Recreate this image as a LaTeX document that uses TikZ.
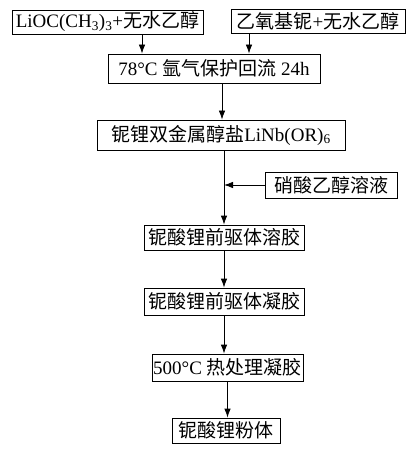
\documentclass[tikz,border=0pt]{standalone}
\usepackage{fontspec}
\setmainfont{Liberation Serif}
\newfontfamily\cjk{Noto Sans CJK SC}
\usetikzlibrary{arrows.meta}

\begin{document}
\begin{tikzpicture}
  [x=1pt,y=-1pt,line width=0.8pt,>={Latex[length=9pt,width=6.5pt]},every node/.style={draw,inner sep=0pt,font=\fontsize{19}{22}\selectfont}]
  \useasboundingbox (0,0) rectangle (413,454);
  \node[minimum width=191pt,minimum height=24pt] (b1) at (107.5,22) {LiOC(CH\textsubscript{3})\textsubscript{3}+{\cjk 无水乙醇}};
  \node[minimum width=174pt,minimum height=24pt] (b2) at (318,21.5) {{\cjk 乙氧基铌}+{\cjk 无水乙醇}};
  \node[minimum width=212pt,minimum height=29pt] (b3) at (214,68.5) {78°C {\cjk 氩气保护回流} 24h};
  \node[minimum width=248pt,minimum height=30pt] (b4) at (221,135) {{\cjk 铌锂双金属醇盐}LiNb(OR)\textsubscript{6}};
  \node[minimum width=132pt,minimum height=26pt] (b5) at (331,185) {\cjk 硝酸乙醇溶液};
  \node[minimum width=160pt,minimum height=25pt] (b6) at (224,237.5) {\cjk 铌酸锂前驱体溶胶};
  \node[minimum width=160pt,minimum height=27pt] (b7) at (224,301.5) {\cjk 铌酸锂前驱体凝胶};
  \node[minimum width=151pt,minimum height=27pt] (b8) at (227.5,367.5) {500°C {\cjk 热处理凝胶}};
  \node[minimum width=108pt,minimum height=25pt] (b9) at (226,430.5) {\cjk 铌酸锂粉体};
  \coordinate (j) at (224,185);
  \draw [->] ([xshift=34.5pt]b1.south) -- ([xshift=-72pt]b3.north);
  \draw [->] ([xshift=-69pt]b2.south) -- ([xshift=35pt]b3.north);
  \draw [->] ([xshift=8pt]b3.south) -- ([xshift=1pt]b4.north);
  \draw [->] ([xshift=3pt]b4.south) -- (b6.north);
  \draw [->] (b5.west) -- (j);
  \foreach \from/\to in {b6/b7, b7/b8, b8/b9}
    \draw [->] (\from.south) -- (\from.south |- \to.north);
\end{tikzpicture}
\end{document}
